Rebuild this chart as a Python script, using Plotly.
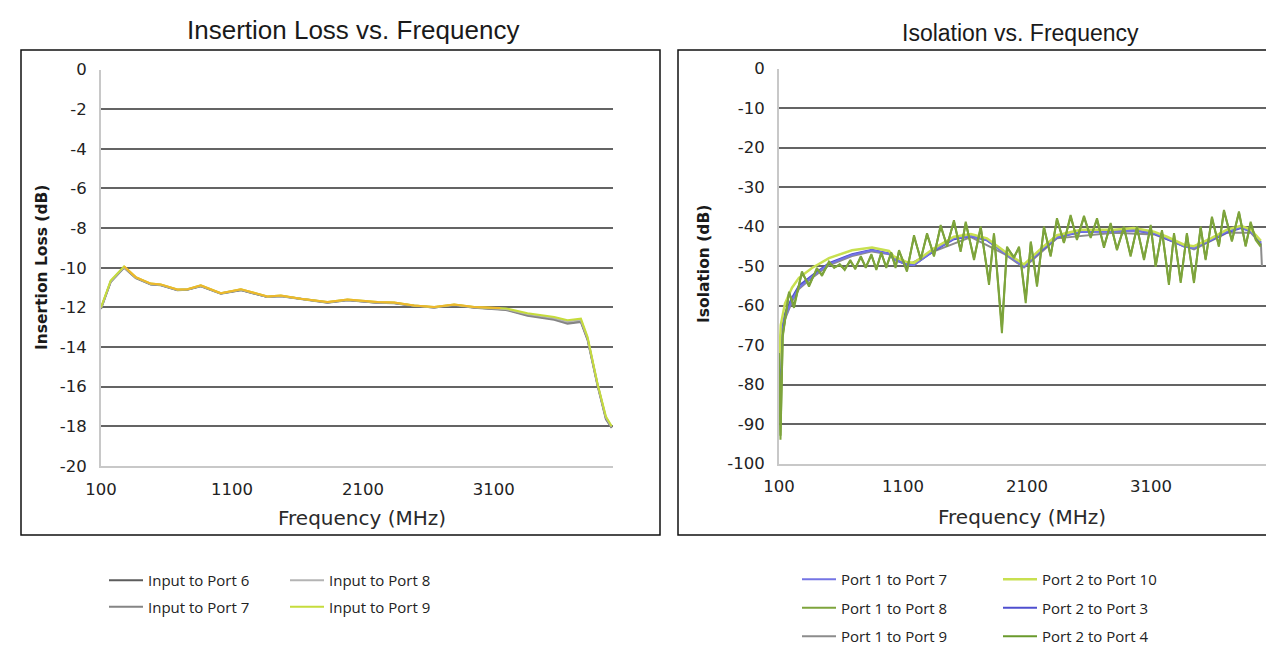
import plotly.graph_objects as go

W, H = 1266, 649

# ---------------- Insertion Loss data ----------------
il_freq = [100, 174, 276, 365, 480, 556, 683, 760, 862, 1015, 1168, 1371, 1473, 1626, 1830,
           1982, 2211, 2339, 2491, 2644, 2797, 2950, 3192, 3357, 3561, 3663, 3765, 3816, 3892,
           3956, 4000]
il_port6 = [-12.05, -10.70, -9.98, -10.50, -10.83, -10.87, -11.12, -11.10, -10.92, -11.30,
            -11.12, -11.47, -11.43, -11.58, -11.75, -11.63, -11.76, -11.78, -11.92, -12.00,
            -11.88, -12.00, -12.10, -12.38, -12.58, -12.78, -12.70, -13.60, -15.90, -17.60, -18.05]
il_port7 = [-12.08, -10.72, -10.00, -10.52, -10.85, -10.88, -11.13, -11.11, -10.93, -11.31,
            -11.13, -11.48, -11.44, -11.59, -11.76, -11.64, -11.77, -11.79, -11.93, -12.01,
            -11.89, -12.02, -12.13, -12.42, -12.62, -12.82, -12.74, -13.65, -15.95, -17.65, -18.08]
il_port8 = [-12.02, -10.68, -9.96, -10.49, -10.82, -10.86, -11.11, -11.09, -10.91, -11.29,
            -11.10, -11.46, -11.42, -11.57, -11.74, -11.62, -11.75, -11.77, -11.91, -11.99,
            -11.87, -11.99, -12.08, -12.34, -12.54, -12.72, -12.64, -13.55, -15.88, -17.55, -18.02]
il_port9 = [-12.00, -10.64, -9.93, -10.47, -10.80, -10.84, -11.10, -11.08, -10.88, -11.28,
            -11.08, -11.45, -11.40, -11.56, -11.73, -11.60, -11.73, -11.75, -11.90, -11.98,
            -11.85, -11.98, -12.05, -12.29, -12.48, -12.65, -12.57, -13.50, -15.85, -17.50, -18.00]
# additional (unlabelled) orange trace visible on top in the reference
il_extra_freq = [276, 365, 480, 556, 683, 760, 862, 1015, 1168, 1371, 1473, 1626, 1830,
                 1982, 2211, 2339, 2491, 2644, 2797, 2950, 3150]
il_extra = [-9.93, -10.47, -10.80, -10.84, -11.10, -11.08, -10.88, -11.28, -11.08, -11.45,
            -11.40, -11.56, -11.73, -11.60, -11.73, -11.75, -11.90, -11.98, -11.85, -11.98, -12.03]

# ---------------- Isolation data ----------------
sm_freq = [100, 114, 148, 205, 261, 366, 503, 689, 850, 987, 1027, 1132, 1189, 1350, 1511,
           1648, 1777, 1915, 2076, 2213, 2342, 2535, 2802, 2963, 3124, 3229, 3366, 3447, 3584,
           3713, 3826, 3906, 3987]
iso_p1_p7 = [-82.0, -68.7, -63.0, -58.6, -55.5, -52.7, -49.5, -47.2, -46.0, -46.9, -48.3,
             -49.6, -49.8, -46.0, -43.0, -42.4, -43.4, -46.7, -50.2, -46.0, -42.7, -41.3,
             -41.3, -40.9, -41.7, -43.0, -45.1, -45.5, -43.4, -41.3, -40.2, -41.3, -44.2]
iso_p2_p3 = [-80.0, -67.5, -62.0, -58.0, -55.0, -52.4, -49.3, -47.0, -45.9, -46.8, -48.4,
             -49.6, -49.7, -46.2, -43.2, -42.5, -43.5, -46.5, -50.0, -46.2, -42.8, -41.4,
             -41.2, -41.0, -41.8, -43.2, -45.0, -45.4, -43.5, -41.5, -40.4, -41.2, -44.0]
iso_p2_p10 = [-76.0, -65.0, -59.5, -55.5, -53.0, -50.5, -48.0, -46.0, -45.3, -46.2, -47.6,
              -49.0, -49.2, -45.5, -42.6, -41.9, -43.0, -46.2, -49.6, -45.6, -42.2, -40.8,
              -40.8, -40.4, -41.3, -42.6, -44.6, -45.0, -43.0, -40.8, -39.8, -40.8, -43.6]
p19_freq = [100, 114, 148, 205, 261, 366, 503, 689, 850, 987, 1132, 1350, 1648, 1915, 2076,
            2342, 2802, 3124, 3447, 3713, 3906, 3987, 3995]
iso_p1_p9 = [-84.0, -69.5, -63.5, -59.0, -55.8, -53.0, -49.8, -47.5, -46.3, -47.0, -49.9,
             -46.3, -42.7, -46.9, -50.4, -43.0, -41.6, -42.0, -45.8, -41.6, -41.6, -44.4, -50.0]

rp_freq = [100, 112, 130, 181, 221, 285, 342, 406, 447, 503, 545, 590, 630, 675, 715, 760,
           800, 845, 885, 925, 965, 1005, 1040, 1068, 1132, 1189, 1243, 1294, 1350, 1404, 1455,
           1511, 1565, 1606, 1673, 1727, 1794, 1834, 1898, 1939, 1995, 2036, 2090, 2131, 2181,
           2237, 2291, 2342, 2398, 2452, 2503, 2560, 2614, 2665, 2721, 2775, 2826, 2882, 2936,
           2987, 3044, 3098, 3138, 3189, 3245, 3286, 3340, 3390, 3447, 3501, 3541, 3592, 3648,
           3689, 3753, 3810, 3864, 3904, 3945, 3985]
iso_p1_p8 = [-72.0, -94.0, -68.0, -56.5, -60.6, -51.4, -55.2, -50.5, -52.5, -48.9, -50.5,
             -49.5, -51.0, -48.5, -50.8, -47.5, -50.5, -47.0, -51.0, -46.5, -50.5, -46.5,
             -50.5, -46.0, -51.4, -42.2, -48.5, -41.7, -47.6, -39.6, -45.1, -38.4, -46.4,
             -38.8, -48.5, -40.0, -54.8, -41.7, -67.0, -45.1, -48.0, -45.1, -59.4, -43.8,
             -55.2, -40.0, -47.6, -37.9, -44.2, -37.1, -43.4, -37.3, -42.9, -37.9, -45.4,
             -39.1, -46.0, -40.0, -47.6, -40.0, -48.5, -39.6, -50.2, -40.9, -54.8, -41.7,
             -54.3, -41.7, -54.3, -40.0, -48.5, -37.5, -45.1, -35.8, -43.8, -36.2, -45.1,
             -38.8, -43.4, -45.1]
iso_p2_p4 = [-73.0, -93.0, -67.5, -56.8, -60.0, -51.7, -54.8, -50.8, -52.2, -49.2, -50.3,
             -49.8, -50.8, -48.8, -50.5, -47.8, -50.3, -47.3, -50.7, -46.8, -50.2, -46.8,
             -50.2, -46.3, -51.0, -42.6, -48.2, -42.0, -47.3, -40.0, -44.8, -38.8, -46.0,
             -39.2, -48.0, -40.4, -54.0, -42.0, -65.5, -45.4, -47.7, -45.4, -58.5, -44.1,
             -54.6, -40.4, -47.3, -38.3, -44.0, -37.5, -43.1, -37.7, -42.6, -38.3, -45.0,
             -39.5, -45.7, -40.4, -47.2, -40.4, -48.1, -40.0, -49.8, -41.2, -54.2, -42.0,
             -53.8, -42.0, -53.8, -40.4, -48.2, -37.9, -44.8, -36.2, -43.5, -36.6, -44.8,
             -39.2, -43.1, -44.8]

# ---------------- tick labels ----------------
x_ticks = [100, 1100, 2100, 3100]
il_yticks = [0, -2, -4, -6, -8, -10, -12, -14, -16, -18, -20]
iso_yticks = [0, -10, -20, -30, -40, -50, -60, -70, -80, -90, -100]

fig = go.Figure()

def L(color, width=2):
    return dict(color=color, width=width)

# left chart traces
fig.add_trace(go.Scatter(x=il_freq, y=il_port6, mode="lines", name="Input to Port 6",
                         line=L("#5c5c5c"), legend="legend", legendgroup="a1", legendrank=1))
fig.add_trace(go.Scatter(x=il_freq, y=il_port7, mode="lines", name="Input to Port 7",
                         line=L("#858585"), legend="legend", legendgroup="a2", legendrank=2))
fig.add_trace(go.Scatter(x=il_freq, y=il_port8, mode="lines", name="Input to Port 8",
                         line=L("#b4b4b4"), legend="legend2", legendgroup="b1", legendrank=1))
fig.add_trace(go.Scatter(x=il_freq, y=il_port9, mode="lines", name="Input to Port 9",
                         line=L("#c6dc3c"), legend="legend2", legendgroup="b2", legendrank=2))
fig.add_trace(go.Scatter(x=il_extra_freq, y=il_extra, mode="lines", name="",
                         line=L("#eeb72c"), showlegend=False))

# right chart traces
def add_iso(x, y, name, color, legend, group, rank, width=2):
    fig.add_trace(go.Scatter(x=x, y=y, mode="lines", name=name, line=L(color, width),
                             xaxis="x2", yaxis="y2", legend=legend, legendgroup=group,
                             legendrank=rank))

add_iso(p19_freq, iso_p1_p9, "Port 1 to Port 9", "#8c8c8c", "legend3", "c3", 3)
add_iso(sm_freq, iso_p2_p3, "Port 2 to Port 3", "#4f4fcf", "legend4", "d2", 2)
add_iso(sm_freq, iso_p1_p7, "Port 1 to Port 7", "#7474e4", "legend3", "c1", 1)
add_iso(sm_freq, iso_p2_p10, "Port 2 to Port 10", "#c8e050", "legend4", "d1", 1, 2.5)
add_iso(rp_freq, iso_p2_p4, "Port 2 to Port 4", "#6a9a2c", "legend4", "d3", 3)
add_iso(rp_freq, iso_p1_p8, "Port 1 to Port 8", "#7ea43c", "legend3", "c2", 2)

tick_font = dict(family="DejaVu Sans", size=16.5, color="#222222")

def yax(ticks):
    return dict(showgrid=True, gridcolor="#646464", gridwidth=2, zeroline=False,
                showline=True, linecolor="#c8c8c8", linewidth=2, ticks="",
                tickfont=tick_font, ticklabelstandoff=9, tickmode="array",
                tickvals=ticks, ticktext=[str(v) for v in ticks])

xax = dict(showgrid=False, zeroline=False, showline=True, linecolor="#c8c8c8", linewidth=2,
           ticks="", tickfont=tick_font, ticklabelstandoff=7, tickmode="array",
           tickvals=x_ticks, ticktext=[str(v) for v in x_ticks])

leg_font = dict(family="Open Sans", size=15, color="#222222")
def legend(x, y, gap):
    return dict(x=x / W, y=1 - y / H, xanchor="left", yanchor="top", font=leg_font,
                bgcolor="rgba(0,0,0,0)", borderwidth=0, traceorder="grouped",
                tracegroupgap=gap, itemwidth=34, orientation="v")

fig.update_layout(
    width=W, height=H, margin=dict(l=0, r=0, t=0, b=0, autoexpand=False),
    paper_bgcolor="white", plot_bgcolor="white",
    xaxis=dict(xax, domain=[101 / W, 613 / W], range=[100, 4010], anchor="y"),
    yaxis=dict(yax(il_yticks), domain=[1 - 466 / H, 1 - 69.5 / H], range=[-20, 0], anchor="x"),
    xaxis2=dict(xax, domain=[779 / W, 1.0], range=[100, 4028], anchor="y2"),
    yaxis2=dict(yax(iso_yticks), domain=[1 - 463.5 / H, 1 - 68.5 / H], range=[-100, 0],
                anchor="x2"),
    legend=legend(104, 564, 4),
    legend2=legend(285, 564, 4),
    legend3=legend(797, 563, 6),
    legend4=legend(998, 563, 6),
    showlegend=True,
)

title_font_l = dict(family="Liberation Sans", size=26, color="#1a1a1a")
title_font_r = dict(family="Liberation Sans", size=23, color="#1a1a1a")
axis_title_font = dict(family="DejaVu Sans", size=20, color="#2a2a2a")
ytitle_font = dict(family="DejaVu Sans", size=15.5, color="#1a1a1a", weight="bold")

annos = [
    dict(text="Insertion Loss vs. Frequency", x=353 / W, y=1 - 30 / H, font=title_font_l),
    dict(text="Isolation vs. Frequency", x=1020 / W, y=1 - 33 / H, font=title_font_r),
    dict(text="Frequency (MHz)", x=362 / W, y=1 - 518 / H, font=axis_title_font),
    dict(text="Frequency (MHz)", x=1022 / W, y=1 - 517 / H, font=axis_title_font),
    dict(text="Insertion Loss (dB)", x=42 / W, y=1 - 268 / H, font=ytitle_font, textangle=-90),
    dict(text="Isolation (dB)", x=704 / W, y=1 - 264 / H, font=ytitle_font, textangle=-90),
]
fig.update_layout(annotations=[dict(a, xref="paper", yref="paper", showarrow=False,
                                    xanchor="center", yanchor="middle") for a in annos])

fig.update_layout(shapes=[
    dict(type="rect", xref="paper", yref="paper", x0=21 / W, x1=660 / W,
         y0=1 - 535 / H, y1=1 - 50 / H, line=dict(color="#111111", width=1.5)),
    dict(type="rect", xref="paper", yref="paper", x0=678 / W, x1=1.01,
         y0=1 - 535 / H, y1=1 - 50 / H, line=dict(color="#111111", width=1.5)),
])

fig.write_html("out.html")
